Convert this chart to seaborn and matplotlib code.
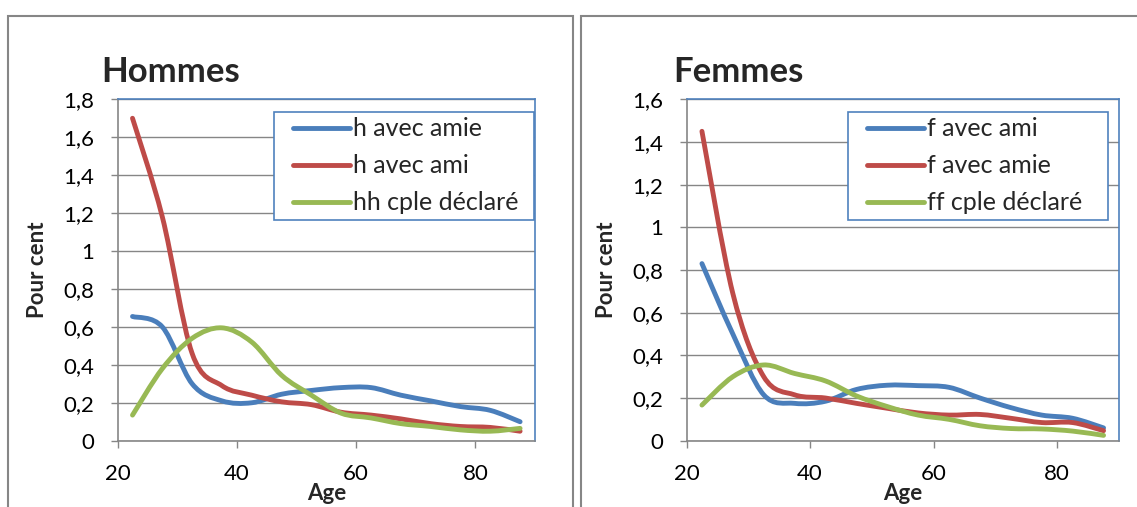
"""Hommes / Femmes : pourcentages par âge, deux panneaux à la manière d'Excel."""

import matplotlib

matplotlib.use("Agg")
import matplotlib.pyplot as plt
import numpy as np
import seaborn as sns
from matplotlib.legend_handler import HandlerLine2D
from matplotlib.lines import Line2D
from matplotlib.patches import PathPatch, Rectangle
from matplotlib.path import Path
from matplotlib.ticker import FuncFormatter, MultipleLocator

# --- données -----------------------------------------------------------------
ages = [22.5, 27.5, 32.5, 37.5, 42.5, 47.5, 52.5, 57.5, 62.5, 67.5, 72.5, 77.5, 82.5, 87.5]

h_avec_amie = [0.655, 0.60, 0.30, 0.21, 0.20, 0.245, 0.265, 0.28, 0.28, 0.24, 0.21, 0.18, 0.16, 0.10]
h_avec_ami = [1.70, 1.18, 0.46, 0.29, 0.24, 0.205, 0.19, 0.15, 0.135, 0.115, 0.09, 0.075, 0.07, 0.05]
hh_cple = [0.135, 0.38, 0.54, 0.595, 0.52, 0.345, 0.24, 0.145, 0.12, 0.09, 0.075, 0.057, 0.05, 0.065]

f_avec_ami = [0.83, 0.50, 0.215, 0.175, 0.185, 0.24, 0.26, 0.258, 0.25, 0.20, 0.155, 0.12, 0.105, 0.06]
f_avec_amie = [1.45, 0.69, 0.30, 0.215, 0.20, 0.175, 0.152, 0.13, 0.12, 0.123, 0.105, 0.085, 0.085, 0.047]
ff_cple = [0.167, 0.30, 0.355, 0.315, 0.28, 0.21, 0.16, 0.12, 0.10, 0.07, 0.057, 0.055, 0.045, 0.025]

labels_h = ["h avec amie", "h avec ami", "hh cple déclaré"]
labels_f = ["f avec ami", "f avec amie", "ff cple déclaré"]
x_ticks = [20, 40, 60, 80]

COLORS = sns.color_palette(["#4A7EBB", "#BE4B48", "#98B954"])
GRAY = "#868686"
BLUE_EDGE = "#4F81BD"
LW = 3.5

sns.set_style("white")
plt.rcParams["font.family"] = ["Lato", "DejaVu Sans"]


def smooth_path(x, y):
    """Courbe lissée (Bézier type Catmull-Rom) passant par les points."""
    pts = np.column_stack([x, y]).astype(float)
    padded = np.vstack([pts[0], pts, pts[-1]])
    verts = [pts[0]]
    codes = [Path.MOVETO]
    for i in range(len(pts) - 1):
        p0, p1, p2, p3 = padded[i], padded[i + 1], padded[i + 2], padded[i + 3]
        verts += [p1 + (p2 - p0) / 6, p2 - (p3 - p1) / 6, p2]
        codes += [Path.CURVE4] * 3
    return Path(verts, codes)


def comma(v, _):
    return f"{v:g}".replace(".", ",")


def draw_panel(ax, title, series, labels, ymax, title_x, ylabel_x, legend_box):
    for values, color in zip(series, COLORS):
        ax.add_patch(
            PathPatch(
                smooth_path(ages, values),
                fill=False,
                edgecolor=color,
                lw=LW,
                capstyle="round",
                joinstyle="round",
                zorder=3,
            )
        )
    ax.set_xlim(20, 90)
    ax.set_ylim(0, ymax)
    ax.set_xticks(x_ticks)
    ax.yaxis.set_major_locator(MultipleLocator(0.2))
    ax.yaxis.set_major_formatter(FuncFormatter(comma))
    ax.grid(axis="y", color=GRAY, lw=1.0)
    ax.grid(axis="x", visible=False)
    ax.set_axisbelow(True)

    for side in ("left", "bottom"):
        ax.spines[side].set_color(GRAY)
        ax.spines[side].set_linewidth(1.2)
    for side in ("top", "right"):
        ax.spines[side].set_color(BLUE_EDGE)
        ax.spines[side].set_linewidth(1.2)

    ax.tick_params(axis="both", direction="out", length=5, width=1.0, color=GRAY,
                   labelsize=16, pad=12, labelcolor="black")
    ax.tick_params(axis="y", left=True)
    ax.tick_params(axis="x", bottom=True)

    ax.set_title(title, loc="left", x=title_x, y=1.05, pad=0,
                 fontsize=25, fontweight="bold")
    ax.set_xlabel("Age", fontsize=16, fontweight="bold")
    ax.xaxis.set_label_coords(0.5, -0.125)
    ax.set_ylabel("Pour cent", fontsize=16, fontweight="bold")
    ax.yaxis.set_label_coords(ylabel_x, 0.5)

    handles = [Line2D([0], [0], color=c, lw=LW, solid_capstyle="round") for c in COLORS]
    leg = ax.legend(
        handles,
        labels,
        loc="upper left",
        bbox_to_anchor=legend_box,
        mode="expand",
        frameon=True,
        fancybox=False,
        fontsize=18,
        handlelength=2.82,
        handletextpad=0.12,
        labelspacing=0.56,
        borderpad=0.22,
        borderaxespad=0,
        handler_map={Line2D: HandlerLine2D(xpad=0.55)},
    )
    leg.get_frame().set_edgecolor(BLUE_EDGE)
    leg.get_frame().set_linewidth(1.2)
    leg.get_frame().set_facecolor("white")
    leg.get_frame().set_alpha(1)
    return leg


fig = plt.figure(figsize=(11.37, 5.07), dpi=100)
W, H = 1137, 507

# cadres gris des deux graphiques
fig.add_artist(Rectangle((8 / W, -0.1), (573 - 8) / W, 1.1 - 16 / H,
                         transform=fig.transFigure, fill=False, ec=GRAY, lw=1.5))
fig.add_artist(Rectangle((581 / W, -0.1), 0.6, 1.1 - 16 / H,
                         transform=fig.transFigure, fill=False, ec=GRAY, lw=1.5))

ax_h = fig.add_axes([117.6 / W, (H - 440.7) / H, (535 - 117.6) / W, 341.4 / H])
ax_f = fig.add_axes([686.5 / W, (H - 440.7) / H, (1119 - 686.5) / W, 341.4 / H])

draw_panel(ax_h, "Hommes", [h_avec_amie, h_avec_ami, hh_cple], labels_h,
           1.8, -0.04, -0.167, (0.3747, 0.655, 0.623, 0.308))
draw_panel(ax_f, "Femmes", [f_avec_ami, f_avec_amie, ff_cple], labels_f,
           1.6, -0.03, -0.161, (0.373, 0.655, 0.602, 0.308))

fig.savefig("out.png", dpi=100)
